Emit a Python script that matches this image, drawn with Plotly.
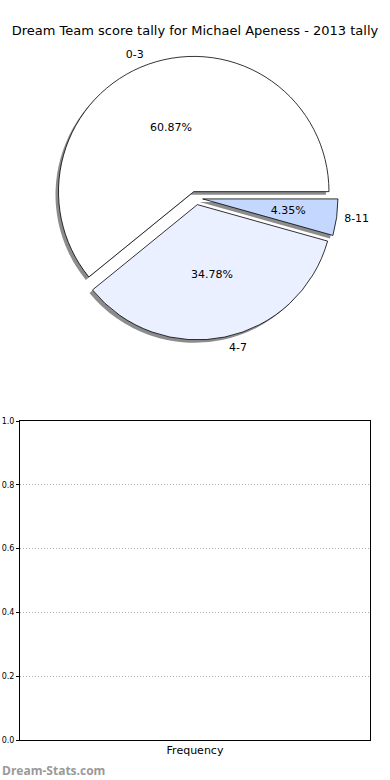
import plotly.graph_objects as go

categories = ["0-3", "4-7", "8-11"]
counts = [14, 8, 1]
slice_colors = ["#ffffff", "#eaf0ff", "#c4d7ff"]
y_ticks = [0.0, 0.2, 0.4, 0.6, 0.8, 1.0]
y_tick_labels = ["0.0", "0.2", "0.4", "0.6", "0.8", "1.0"]
x_label = "Frequency"
title = "Dream Team score tally for Michael Apeness - 2013 tally"

W, H = 390, 780
cx, cy, half = 196, 198, 142
sh = 3
pull = [0.05, 0.05, 0.05]
font = "DejaVu Sans"
pct = "%{percent:.2%}"
# first slice starts at 3 o'clock and runs counterclockwise (plotly ends the first slice at `rotation`)
rot = 90 - 360 * sum(counts[:1]) / sum(counts)


def dom(h, dx=0, dy=0):
    return dict(x=[(cx - h + dx) / W, (cx + h + dx) / W],
                y=[1 - (cy + h + dy) / H, 1 - (cy - h + dy) / H])


common = dict(labels=categories, values=counts, sort=False, direction="counterclockwise",
              rotation=rot, pull=pull, showlegend=False)
clear = dict(colors=["rgba(0,0,0,0)"] * 3, line=dict(width=0))
tfont = dict(family=font, size=11, color="#000000")

fig = go.Figure()
# shadow
fig.add_trace(go.Pie(**common, textinfo="none", hoverinfo="skip",
                     marker=dict(colors=["#8c8c8c"] * 3, line=dict(width=0)),
                     domain=dom(half, -sh, sh)))
# main pie with percentages of the large slices
fig.add_trace(go.Pie(**common, texttemplate=[pct, pct, ""], textposition="inside",
                     insidetextorientation="horizontal", textfont=tfont,
                     marker=dict(colors=slice_colors, line=dict(color="#000000", width=0.8)),
                     domain=dom(half)))
# percentage of the small slice, placed nearer the centre
fig.add_trace(go.Pie(**common, texttemplate=["", "", pct], textposition="inside",
                     insidetextorientation="horizontal", textfont=tfont, hoverinfo="skip",
                     marker=clear, domain=dom(half * 0.74)))
# outside labels
fig.add_trace(go.Pie(**common, texttemplate="%{label}", textposition="outside", hoverinfo="skip",
                     textfont=tfont, marker=clear, domain=dom(half * 1.03)))
# empty bar chart
fig.add_trace(go.Bar(x=[], y=[], showlegend=False, xaxis="x", yaxis="y"))

fig.update_layout(
    width=W, height=H, margin=dict(l=0, r=0, t=0, b=0, autoexpand=False),
    paper_bgcolor="#ffffff", plot_bgcolor="#ffffff",
    font=dict(family=font, color="#000000"),
    uniformtext=dict(minsize=10, mode="show"),
    title=dict(text=title, x=0.5, xanchor="center", y=1 - 30 / H, yanchor="middle",
               font=dict(family=font, size=13, color="#000000")),
    xaxis=dict(domain=[20 / W, 370 / W], showticklabels=False, ticks="", automargin=False,
               showgrid=False, zeroline=False, showline=True, linecolor="#000000",
               linewidth=1, mirror=True, fixedrange=True,
               title=dict(text=x_label, standoff=6, font=dict(family=font, size=11, color="#000000"))),
    yaxis=dict(domain=[40 / H, 359 / H], range=[0, 1], tickvals=y_ticks, ticktext=y_tick_labels,
               ticks="outside", ticklen=3, tickcolor="#000000", automargin=False,
               tickfont=dict(family=font, size=8, color="#000000"),
               showgrid=True, gridcolor="#b0b0b0", griddash="1px,2px", gridwidth=1,
               zeroline=False, showline=True, linecolor="#000000", linewidth=1, mirror=True,
               fixedrange=True),
    annotations=[dict(text="<b>Dream-Stats.com</b>", x=0, y=1 - 770 / H, xref="paper", yref="paper",
                      xanchor="left", yanchor="middle", showarrow=False,
                      font=dict(family="Open Sans", size=12, color="#999999"))],
)

fig.write_html("out.html", config={"displayModeBar": False},
               post_script="document.body.style.margin='0';")
